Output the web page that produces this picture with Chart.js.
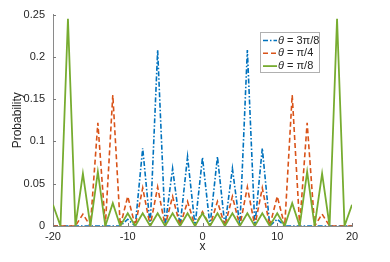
<!DOCTYPE html>
<html lang="en">
<head>
  <meta charset="UTF-8" />
  <title>Quantum walk probability</title>
  <script src="https://cdn.jsdelivr.net/npm/chart.js"></script>
  <style>
    body { margin: 0; background: #fff; }
    #wrap { width: 390px; height: 262px; }
  </style>
</head>
<body>
  <div id="wrap"><canvas id="walkChart"></canvas></div>

  <script>
    // positions on the line
    const positions = [-20, -19, -18, -17, -16, -15, -14, -13, -12, -11, -10, -9, -8, -7, -6, -5, -4, -3, -2, -1,
                       0, 1, 2, 3, 4, 5, 6, 7, 8, 9, 10, 11, 12, 13, 14, 15, 16, 17, 18, 19, 20];

    // probabilities
    const prob3pi8 = [0, 0, 0, 0, 0, 0, 0, 0, 0, 0, 0.008, 0, 0.092, 0, 0.208, 0, 0.068, 0, 0.082, 0,
                      0.081, 0, 0.082, 0, 0.068, 0, 0.208, 0, 0.092, 0, 0.008, 0, 0, 0, 0, 0, 0, 0, 0, 0, 0];
    const probPi4  = [0, 0, 0, 0, 0.014, 0, 0.122, 0, 0.155, 0, 0.035, 0, 0.045, 0, 0.046, 0, 0.035, 0, 0.029, 0,
                      0.017, 0, 0.029, 0, 0.035, 0, 0.046, 0, 0.045, 0, 0.035, 0, 0.155, 0, 0.122, 0, 0.014, 0, 0, 0, 0];
    const probPi8  = [0.025, 0, 0.245, 0, 0.062, 0, 0.064, 0, 0.027, 0, 0.015, 0, 0.015, 0, 0.015, 0, 0.015, 0, 0.015, 0,
                      0.015, 0, 0.015, 0, 0.015, 0, 0.015, 0, 0.015, 0, 0.015, 0, 0.027, 0, 0.064, 0, 0.062, 0, 0.245, 0, 0.025];

    const thetaLabels = ["3π/8", "π/4", "π/8"];
    const xTicks = [-20, -10, 0, 10, 20];
    const yTicks = [0, 0.05, 0.1, 0.15, 0.2, 0.25];

    const FONT = "'Liberation Sans', Arial, sans-serif";
    const toPoints = arr => arr.map((p, i) => ({ x: positions[i], y: p }));

    // small inward ticks + boxed legend, MATLAB style
    const matlabExtras = {
      id: "matlabExtras",
      afterDraw(chart) {
        const { ctx, chartArea: a, scales: { x, y } } = chart;
        ctx.save();
        ctx.strokeStyle = "#7a7a7a";
        ctx.lineWidth = 1;
        ctx.beginPath();
        xTicks.forEach(v => {
          const px = Math.round(x.getPixelForValue(v)) + 0.5;
          ctx.moveTo(px, a.bottom);
          ctx.lineTo(px, a.bottom - 3);
        });
        yTicks.forEach(v => {
          const py = Math.round(y.getPixelForValue(v)) + 0.5;
          ctx.moveTo(a.left, py);
          ctx.lineTo(a.left + 3, py);
        });
        ctx.stroke();

        // legend box
        ctx.fillStyle = "#fff";
        ctx.fillRect(260.5, 32.5, 59, 40);
        ctx.strokeStyle = "#b0b0b0";
        ctx.strokeRect(260.5, 32.5, 59, 40);

        chart.data.datasets.forEach((ds, i) => {
          const ly = 40.5 + i * 12.8;
          ctx.strokeStyle = ds.borderColor;
          ctx.lineWidth = ds.borderWidth;
          ctx.setLineDash(ds.borderDash || []);
          ctx.beginPath();
          ctx.moveTo(263, ly);
          ctx.lineTo(277, ly);
          ctx.stroke();
          ctx.setLineDash([]);

          ctx.fillStyle = "#262626";
          ctx.textBaseline = "middle";
          ctx.font = "italic 11px " + FONT;
          ctx.fillText("θ", 278, ly);
          const w = ctx.measureText("θ").width;
          ctx.font = "11px " + FONT;
          ctx.fillText(" = " + thetaLabels[i], 278 + w, ly);
        });
        ctx.restore();
      }
    };

    new Chart(document.getElementById("walkChart"), {
      type: "line",
      data: {
        datasets: [
          {
            label: "θ = " + thetaLabels[0],
            data: toPoints(prob3pi8),
            borderColor: "#0072BD",
            borderWidth: 1.6,
            borderDash: [5, 2, 1.5, 2],
            order: 3
          },
          {
            label: "θ = " + thetaLabels[1],
            data: toPoints(probPi4),
            borderColor: "#D95319",
            borderWidth: 1.6,
            borderDash: [5, 3],
            order: 2
          },
          {
            label: "θ = " + thetaLabels[2],
            data: toPoints(probPi8),
            borderColor: "#77AC30",
            borderWidth: 1.8,
            order: 1
          }
        ]
      },
      options: {
        responsive: true,
        maintainAspectRatio: false,
        animation: false,
        layout: { padding: { top: 13, right: 38, left: 0, bottom: 0 } },
        elements: { point: { radius: 0 }, line: { tension: 0 } },
        plugins: { legend: { display: false }, tooltip: { enabled: false } },
        scales: {
          x: {
            type: "linear",
            min: -20,
            max: 20,
            afterBuildTicks: s => { s.ticks = xTicks.map(v => ({ value: v })); },
            afterFit: s => { s.height = 36; },
            grid: { display: false, drawTicks: false },
            border: { display: true, color: "#8a8a8a", width: 1 },
            ticks: { color: "#262626", padding: 4, font: { family: FONT, size: 11 }, maxRotation: 0 },
            title: { display: true, text: "x", color: "#262626", padding: { bottom: 8 }, font: { family: FONT, size: 12 } }
          },
          y: {
            min: 0,
            max: 0.25,
            afterBuildTicks: s => { s.ticks = yTicks.map(v => ({ value: v })); },
            afterFit: s => { s.width = 53; },
            grid: { display: false, drawTicks: false },
            border: { display: true, color: "#8a8a8a", width: 1 },
            ticks: { color: "#262626", padding: 8, font: { family: FONT, size: 11 }, callback: v => String(+v.toFixed(2)) },
            title: { display: true, text: "Probability", color: "#262626", padding: { top: 10 }, font: { family: FONT, size: 12 } }
          }
        }
      },
      plugins: [matlabExtras]
    });
  </script>
</body>
</html>
